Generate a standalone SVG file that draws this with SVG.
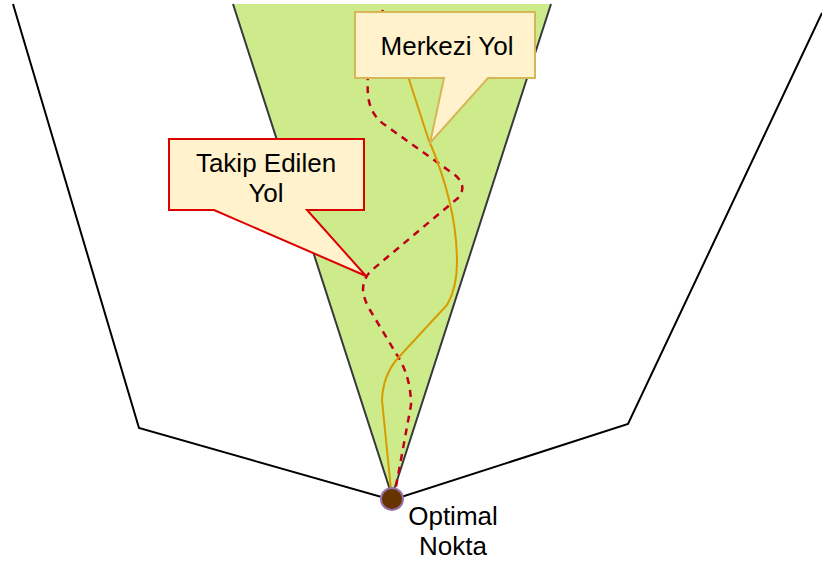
<svg xmlns="http://www.w3.org/2000/svg" width="822" height="562" viewBox="0 0 822 562">
<style>
.lbl{font-family:"Liberation Sans",Arial,sans-serif;font-size:26px;fill:#000;}
.bound{fill:none;stroke:#000;stroke-width:2;}
.callout-y{fill:#fff2cc;stroke:#d6b656;stroke-width:2;}
.callout-r{fill:#fff2cc;stroke:#dd0000;stroke-width:2;}
</style>
<rect width="822" height="562" fill="#fff"/>
<g id="region">
<polygon points="233,4 551,4 392,496" fill="#cdeb8b" stroke="none"/>
<polyline points="233,4 392,496 551,4" fill="none" stroke="#36393d" stroke-width="2"/>
</g>
<g id="boundary">
<polyline class="bound" points="13,4 139,428 392,500 628,424 822,13"/>
</g>
<g id="connectors">
<path id="takip-path" d="M383,10 C372,40 366,70 368,95 Q370,115 385,125 L455,175 Q468,186 458,198 L372,270 Q363,278 363,290 Q364,300 370,310 L400,360 Q411,380 411,405 L395,492" fill="none" stroke="#c0001a" stroke-width="2.5" stroke-dasharray="7 6"/>
<path id="merkezi-path" d="M393,30 L428,138 Q457,205 457,262 Q457,288 447,305 L398,358 Q383,375 382,400 L391,490" fill="none" stroke="#d79b00" stroke-width="2"/>
</g>
<g id="optimal-nokta">
<circle cx="392" cy="499" r="11" fill="#663300" stroke="#9673a6" stroke-width="2"/>
<text class="lbl" x="453" y="525" text-anchor="middle">Optimal</text>
<text class="lbl" x="453" y="555" text-anchor="middle">Nokta</text>
</g>
<g id="merkezi-yol">
<path class="callout-y" d="M355,12 L535,12 L535,78 L488,78 L430,143 L444,78 L355,78 Z"/>
<text class="lbl" x="447" y="55" text-anchor="middle">Merkezi Yol</text>
</g>
<g id="takip-edilen-yol">
<path class="callout-r" d="M169,139 L364,139 L364,210 L307,210 L366,276 L214,210 L169,210 Z"/>
<text class="lbl" x="266" y="172" text-anchor="middle">Takip Edilen</text>
<text class="lbl" x="266" y="202" text-anchor="middle">Yol</text>
</g>
</svg>
